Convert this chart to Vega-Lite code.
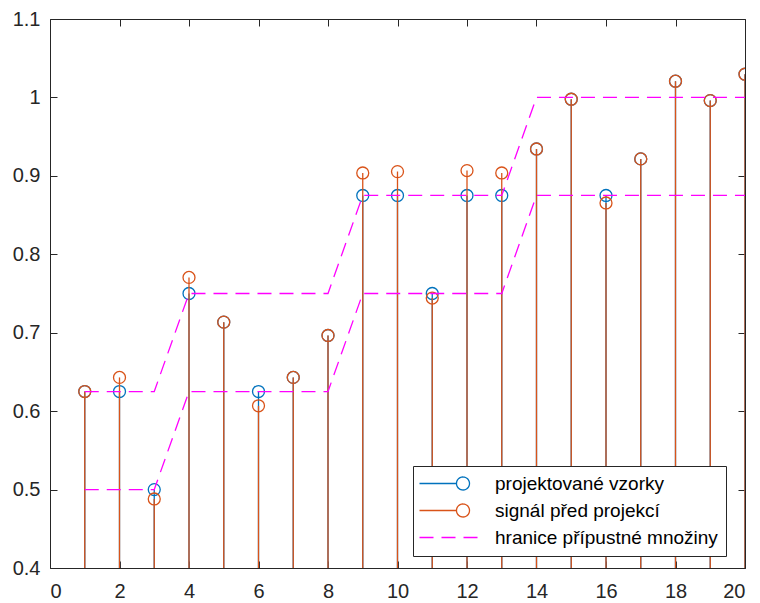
{
  "$schema": "https://vega.github.io/schema/vega-lite/v6.json",
  "autosize": "none",
  "width": 695,
  "height": 549,
  "padding": {"left": 50, "top": 19, "right": 15, "bottom": 35},
  "background": "white",
  "config": {
    "view": {"stroke": "#262626", "strokeWidth": 1},
    "font": "Liberation Sans",
    "axis": {"domain": false, "ticks": false, "grid": true, "gridColor": "#262626", "gridOpacity": 1, "gridWidth": 1, "labelColor": "#262626", "labelFontSize": 20, "labelFont": "Liberation Sans", "title": null}
  },
  "data": {"values": [
    {"n": 1, "proj": 0.625, "sig": 0.625, "lo": 0.5, "hi": 0.625},
    {"n": 2, "proj": 0.625, "sig": 0.643, "lo": 0.5, "hi": 0.625},
    {"n": 3, "proj": 0.5, "sig": 0.488, "lo": 0.5, "hi": 0.625},
    {"n": 4, "proj": 0.75, "sig": 0.7705, "lo": 0.625, "hi": 0.75},
    {"n": 5, "proj": 0.7135, "sig": 0.7135, "lo": 0.625, "hi": 0.75},
    {"n": 6, "proj": 0.625, "sig": 0.6068, "lo": 0.625, "hi": 0.75},
    {"n": 7, "proj": 0.643, "sig": 0.643, "lo": 0.625, "hi": 0.75},
    {"n": 8, "proj": 0.6965, "sig": 0.6965, "lo": 0.625, "hi": 0.75},
    {"n": 9, "proj": 0.875, "sig": 0.9037, "lo": 0.75, "hi": 0.875},
    {"n": 10, "proj": 0.875, "sig": 0.9054, "lo": 0.75, "hi": 0.875},
    {"n": 11, "proj": 0.75, "sig": 0.7442, "lo": 0.75, "hi": 0.875},
    {"n": 12, "proj": 0.875, "sig": 0.9067, "lo": 0.75, "hi": 0.875},
    {"n": 13, "proj": 0.875, "sig": 0.9037, "lo": 0.75, "hi": 0.875},
    {"n": 14, "proj": 0.9343, "sig": 0.9343, "lo": 0.875, "hi": 1.0},
    {"n": 15, "proj": 0.9977, "sig": 0.9977, "lo": 0.875, "hi": 1.0},
    {"n": 16, "proj": 0.875, "sig": 0.8654, "lo": 0.875, "hi": 1.0},
    {"n": 17, "proj": 0.9216, "sig": 0.9216, "lo": 0.875, "hi": 1.0},
    {"n": 18, "proj": 1.0207, "sig": 1.0207, "lo": 0.875, "hi": 1.0},
    {"n": 19, "proj": 0.996, "sig": 0.996, "lo": 0.875, "hi": 1.0},
    {"n": 20, "proj": 1.0296, "sig": 1.0296, "lo": 0.875, "hi": 1.0}
  ]},
  "layer": [
    {
      "mark": {"type": "rule", "strokeWidth": 1.3, "clip": true},
      "encoding": {
        "x": {"field": "n", "type": "quantitative", "scale": {"domain": [0, 20], "nice": false, "zero": false},
              "axis": {"orient": "bottom", "values": [0, 2, 4, 6, 8, 10, 12, 14, 16, 18, 20], "gridDash": [7, 535, 7, 2000], "labelPadding": 13, "labelExpr": "'' + datum.value"}},
        "y": {"field": "proj", "type": "quantitative", "scale": {"domain": [0.4, 1.1], "nice": false, "zero": false},
              "axis": {"orient": "left", "values": [0.4, 0.5, 0.6, 0.7, 0.8, 0.9, 1, 1.1], "gridDash": [7, 681, 7, 2000], "labelPadding": 10, "labelExpr": "'' + datum.value"}},
        "y2": {"datum": 0.4},
        "color": {"datum": "projektované vzorky", "type": "nominal",
          "scale": {"domain": ["projektované vzorky", "signál před projekcí", "hranice přípustné množiny"], "range": ["#0072BD", "#D95319", "#FF00FF"]},
          "legend": {
            "orient": "none", "legendX": 363, "legendY": 447, "title": null,
            "fillColor": "white", "strokeColor": "#262626", "padding": 8,
            "labelFontSize": 19, "labelFont": "Liberation Sans", "labelColor": "#000000", "labelOffset": 55,
            "rowPadding": 7, "symbolSize": 100, "symbolStrokeWidth": 1.3,
            "labelLimit": 400,
            "encode": {"symbols": {"update": {
              "shape": {"signal": "datum.value == 'hranice přípustné množiny' ? 'M-2.2,0H10.4' : 'M-2.2,0H5.2M7.8,0A1.3,1.3 0 1,1 5.2,0A1.3,1.3 0 1,1 7.8,0'"},
              "strokeDash": {"signal": "datum.value == 'hranice přípustné množiny' ? [14, 8] : [1, 0]"},
              "fill": {"value": "transparent"},
              "stroke": {"scale": "color", "field": "value"},
              "strokeWidth": {"value": 1.3},
              "opacity": {"value": 1}
            }}}
          }}
      }
    },
    {
      "mark": {"type": "point", "shape": "circle", "filled": false, "size": 143, "strokeWidth": 1.3, "opacity": 1, "clip": true},
      "encoding": {
        "x": {"field": "n", "type": "quantitative"},
        "y": {"field": "proj", "type": "quantitative"},
        "color": {"datum": "projektované vzorky", "type": "nominal"}
      }
    },
    {
      "mark": {"type": "rule", "strokeWidth": 1.3, "clip": true},
      "encoding": {
        "x": {"field": "n", "type": "quantitative"},
        "y": {"field": "sig", "type": "quantitative"},
        "y2": {"datum": 0.4},
        "color": {"datum": "signál před projekcí", "type": "nominal"}
      }
    },
    {
      "mark": {"type": "point", "shape": "circle", "filled": false, "size": 143, "strokeWidth": 1.3, "opacity": 1, "clip": true},
      "encoding": {
        "x": {"field": "n", "type": "quantitative"},
        "y": {"field": "sig", "type": "quantitative"},
        "color": {"datum": "signál před projekcí", "type": "nominal"}
      }
    },
    {
      "mark": {"type": "line", "strokeWidth": 1.3, "strokeDash": [14, 8], "clip": true},
      "encoding": {
        "x": {"field": "n", "type": "quantitative"},
        "y": {"field": "hi", "type": "quantitative"},
        "color": {"datum": "hranice přípustné množiny", "type": "nominal"}
      }
    },
    {
      "mark": {"type": "line", "strokeWidth": 1.3, "strokeDash": [14, 8], "clip": true},
      "encoding": {
        "x": {"field": "n", "type": "quantitative"},
        "y": {"field": "lo", "type": "quantitative"},
        "color": {"datum": "hranice přípustné množiny", "type": "nominal"}
      }
    }
  ]
}
